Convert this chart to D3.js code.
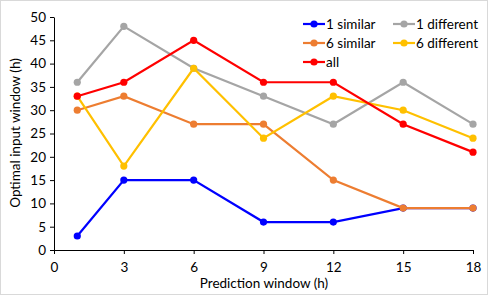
<!DOCTYPE html>
<html><head><meta charset="utf-8">
<script src="https://cdn.jsdelivr.net/npm/d3@7"></script>
<style>body{margin:0;background:#fff}svg{display:block;font-family:Lato,"Open Sans",sans-serif}</style>
</head><body>
<svg id="c" width="488" height="295"></svg>
<script>
const xValues = [1, 3, 6, 9, 12, 15, 18];
const xTicks = [0, 3, 6, 9, 12, 15, 18];
const yTicks = [0, 5, 10, 15, 20, 25, 30, 35, 40, 45, 50];
const seriesNames = ["1 similar", "1 different", "6 similar", "6 different", "all"];
const seriesColors = ["#0000ff", "#a5a5a5", "#ed7d31", "#ffc000", "#ff0000"];
const oneSimilar = [3, 15, 15, 6, 6, 9, 9];
const oneDifferent = [36, 48, 39, 33, 27, 36, 27];
const sixSimilar = [30, 33, 27, 27, 15, 9, 9];
const sixDifferent = [33, 18, 39, 24, 33, 30, 24];
const allSeries = [33, 36, 45, 36, 36, 27, 21];
const seriesValues = [oneSimilar, oneDifferent, sixSimilar, sixDifferent, allSeries];

const FS = 13.5;
const svg = d3.select("#c");
svg.append("rect").attr("x",0.5).attr("y",0.5).attr("width",487).attr("height",294).attr("fill","#fff").attr("stroke","#d9d9d9");
const x = d3.scaleLinear().domain([0,18]).range([54,473]);
const y = d3.scaleLinear().domain([0,50]).range([250,17]);

const gx = svg.append("g").attr("transform","translate(0,250)")
  .call(d3.axisBottom(x).tickValues(xTicks).tickSize(4).tickSizeOuter(0).tickPadding(8));
const gy = svg.append("g").attr("transform","translate(54,0)")
  .call(d3.axisLeft(y).tickValues(yTicks).tickSize(4).tickSizeOuter(0).tickPadding(4));
[gx,gy].forEach(g=>{
  g.selectAll("path,line").attr("stroke","#000");
  g.selectAll("text").attr("font-size",FS).attr("fill","#000").attr("font-family","Lato,'Open Sans',sans-serif");
});

const line = d3.line().x((d,i)=>x(xValues[i])).y(d=>y(d));
seriesValues.forEach((vals,k)=>{
  const g = svg.append("g");
  g.append("path").datum(vals).attr("d",line).attr("fill","none")
    .attr("stroke",seriesColors[k]).attr("stroke-width",2.2);
  g.selectAll("circle").data(vals).join("circle")
    .attr("cx",(d,i)=>x(xValues[i])).attr("cy",d=>y(d)).attr("r",3.6)
    .attr("fill",seriesColors[k]);
});

svg.append("text").attr("transform","translate(20,133) rotate(-90)")
  .attr("text-anchor","middle").attr("font-size",FS).text("Optimal input window (h)");
svg.append("text").attr("x",264).attr("y",288)
  .attr("text-anchor","middle").attr("font-size",FS).text("Prediction window (h)");

const legPos = [[303,24],[393,24],[303,43],[393,43],[303,62]];
seriesNames.forEach((n,k)=>{
  const [lx,ly] = legPos[k];
  const g = svg.append("g");
  g.append("line").attr("x1",lx).attr("x2",lx+22).attr("y1",ly).attr("y2",ly)
    .attr("stroke",seriesColors[k]).attr("stroke-width",2.2);
  g.append("circle").attr("cx",lx+11).attr("cy",ly).attr("r",3.6).attr("fill",seriesColors[k]);
  g.append("text").attr("x",lx+23).attr("y",ly+4.5).attr("font-size",FS).text(n);
});
</script>
</body></html>
